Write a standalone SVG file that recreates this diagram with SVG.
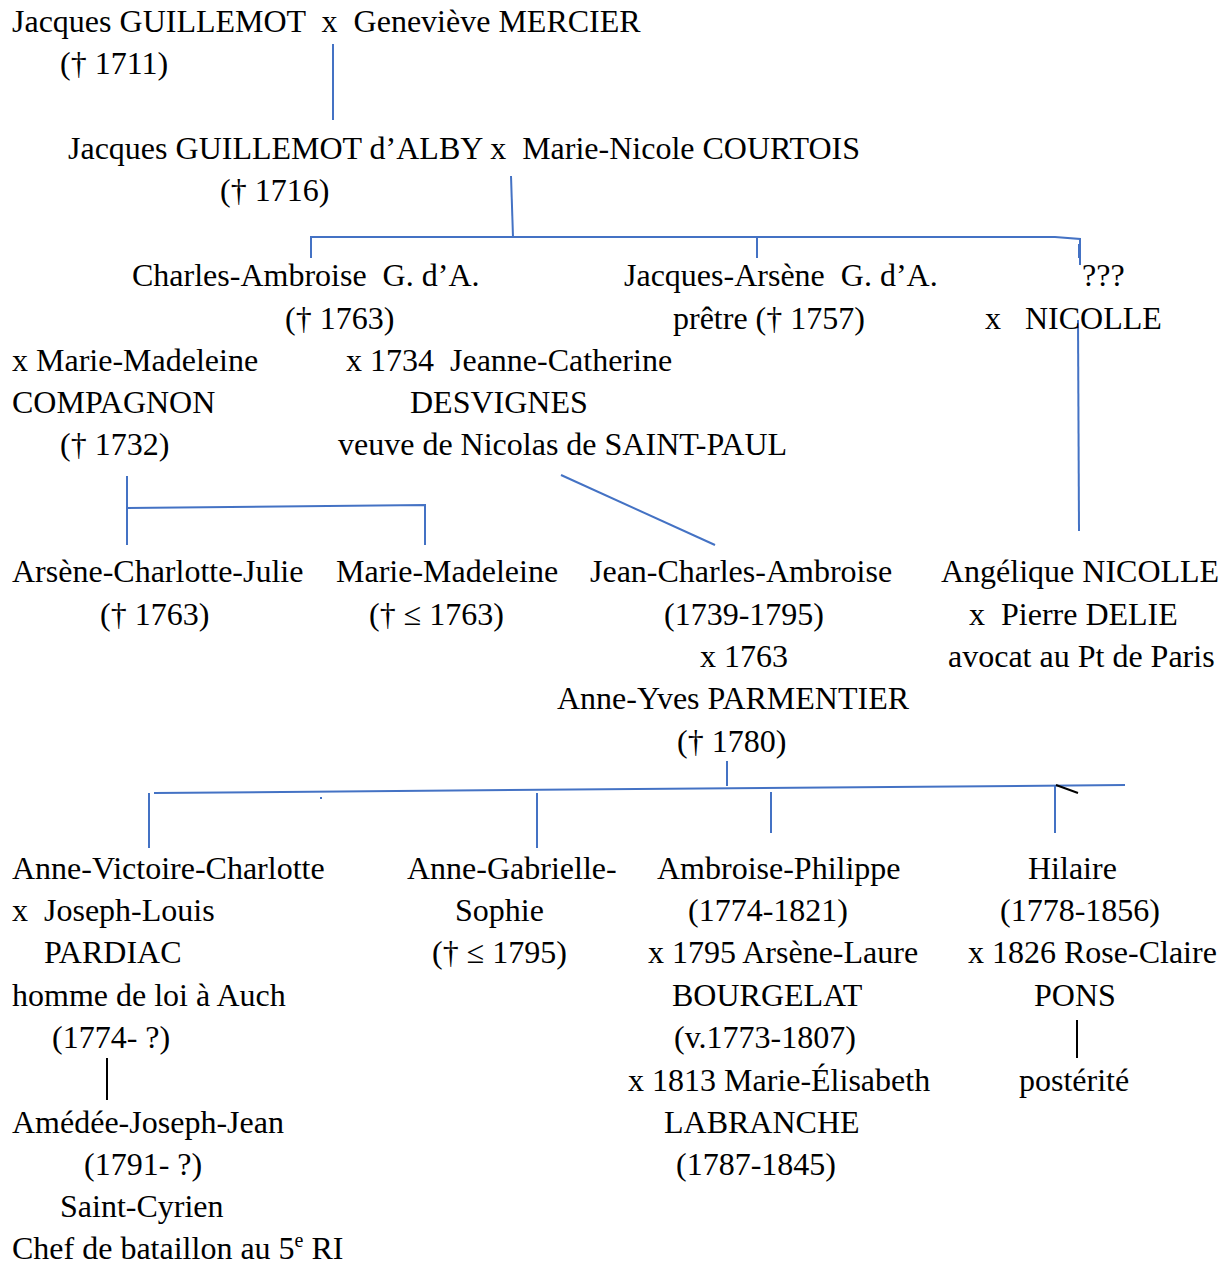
<svg xmlns="http://www.w3.org/2000/svg" width="1230" height="1264" viewBox="0 0 1230 1264">
<style>
text { font-family: "Liberation Serif", "Times New Roman", serif; font-size: 32px; fill: #000; white-space: pre; }
.c { stroke: #4472C4; stroke-width: 2; fill: none; }
.k { stroke: #000; stroke-width: 2; fill: none; }
</style>
<rect width="1230" height="1264" fill="#fff"/>
<g id="connectors">
<line class="c" x1="333" y1="44" x2="333" y2="120"/>
<line class="c" x1="511" y1="176" x2="513" y2="237"/>
<polyline class="c" points="311,258 311,237 1055,237 1080,239 1080,265"/>
<line class="c" x1="1079" y1="244" x2="1079" y2="258" stroke-width="3"/>
<line class="c" x1="757" y1="237" x2="757" y2="258"/>
<line class="c" x1="1078" y1="320" x2="1079" y2="531"/>
<line class="c" x1="127" y1="476" x2="127" y2="545"/>
<polyline class="c" points="127,508 425,505 425,545"/>
<line class="c" x1="561" y1="475" x2="715" y2="545"/>
<line class="c" x1="727" y1="761" x2="727" y2="786"/>
<line class="c" x1="154" y1="793" x2="1125" y2="785"/>
<line class="c" x1="149" y1="793" x2="149" y2="848"/>
<line class="c" x1="537" y1="793" x2="537" y2="848"/>
<line class="c" x1="771" y1="792" x2="771" y2="833"/>
<line class="c" x1="1055" y1="786" x2="1055" y2="833"/>
<rect x="320" y="797" width="2" height="2" fill="#4472C4"/>
<line class="k" x1="1056" y1="785" x2="1078" y2="793"/>
<line class="k" x1="107" y1="1058" x2="107" y2="1100"/>
<line class="k" x1="1077" y1="1020" x2="1077" y2="1058"/>
</g>
<g id="n-jacques-guillemot">
<text x="12" y="32">Jacques GUILLEMOT  x  Geneviève MERCIER</text>
<text x="60" y="74">(† 1711)</text>
</g>
<g id="n-jacques-alby">
<text x="68" y="159">Jacques GUILLEMOT d’ALBY x  Marie-Nicole COURTOIS</text>
<text x="220" y="201">(† 1716)</text>
</g>
<g id="n-charles-ambroise">
<text x="132" y="286">Charles-Ambroise  G. d’A.</text>
<text x="285" y="329">(† 1763)</text>
</g>
<g id="n-jacques-arsene">
<text x="624" y="286">Jacques-Arsène  G. d’A.</text>
<text x="673" y="329">prêtre († 1757)</text>
</g>
<g id="n-unknown">
<text x="1082" y="286">???</text>
<text x="985" y="329">x   NICOLLE</text>
</g>
<g id="n-compagnon">
<text x="12" y="371">x Marie-Madeleine</text>
<text x="12" y="413">COMPAGNON</text>
<text x="60" y="455">(† 1732)</text>
</g>
<g id="n-desvignes">
<text x="346" y="371">x 1734  Jeanne-Catherine</text>
<text x="410" y="413">DESVIGNES</text>
<text x="338" y="455">veuve de Nicolas de SAINT-PAUL</text>
</g>
<g id="n-arsene-charlotte">
<text x="12" y="582">Arsène-Charlotte-Julie</text>
<text x="100" y="625">(† 1763)</text>
</g>
<g id="n-marie-madeleine">
<text x="336" y="582">Marie-Madeleine</text>
<text x="369" y="625">(† ≤ 1763)</text>
</g>
<g id="n-jean-charles">
<text x="590" y="582">Jean-Charles-Ambroise</text>
<text x="664" y="625">(1739-1795)</text>
<text x="700" y="667">x 1763</text>
<text x="557" y="709">Anne-Yves PARMENTIER</text>
<text x="677" y="752">(† 1780)</text>
</g>
<g id="n-angelique">
<text x="941" y="582">Angélique NICOLLE</text>
<text x="969" y="625">x  Pierre DELIE</text>
<text x="948" y="667">avocat au Pt de Paris</text>
</g>
<g id="n-anne-victoire">
<text x="12" y="879">Anne-Victoire-Charlotte</text>
<text x="12" y="921">x  Joseph-Louis</text>
<text x="44" y="963">PARDIAC</text>
<text x="12" y="1006">homme de loi à Auch</text>
<text x="52" y="1048">(1774- ?)</text>
</g>
<g id="n-amedee">
<text x="12" y="1133">Amédée-Joseph-Jean</text>
<text x="84" y="1175">(1791- ?)</text>
<text x="60" y="1217">Saint-Cyrien</text>
<text x="12" y="1259">Chef de bataillon au 5<tspan dy="-12" font-size="20">e</tspan><tspan dy="12"> RI</tspan></text>
</g>
<g id="n-anne-gabrielle">
<text x="407" y="879">Anne-Gabrielle-</text>
<text x="455" y="921">Sophie</text>
<text x="432" y="963">(† ≤ 1795)</text>
</g>
<g id="n-ambroise-philippe">
<text x="657" y="879">Ambroise-Philippe</text>
<text x="688" y="921">(1774-1821)</text>
<text x="648" y="963">x 1795 Arsène-Laure</text>
<text x="672" y="1006">BOURGELAT</text>
<text x="674" y="1048">(v.1773-1807)</text>
<text x="628" y="1091">x 1813 Marie-Élisabeth</text>
<text x="664" y="1133">LABRANCHE</text>
<text x="676" y="1175">(1787-1845)</text>
</g>
<g id="n-hilaire">
<text x="1028" y="879">Hilaire</text>
<text x="1000" y="921">(1778-1856)</text>
<text x="968" y="963">x 1826 Rose-Claire</text>
<text x="1034" y="1006">PONS</text>
<text x="1019" y="1091">postérité</text>
</g>
</svg>
